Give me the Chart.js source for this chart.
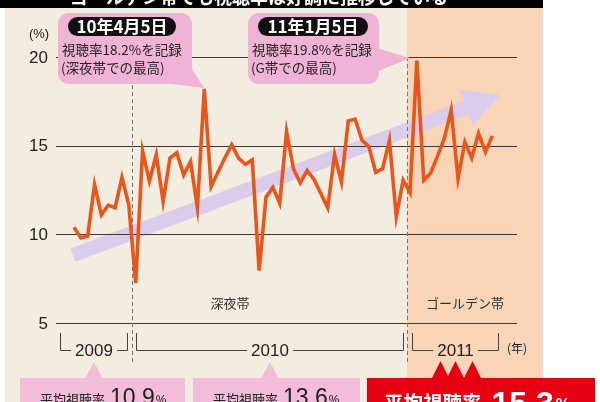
<!DOCTYPE html>
<html><head><meta charset="utf-8">
<script src="https://cdn.jsdelivr.net/npm/chart.js@4"></script>
<style>html,body{margin:0;padding:0;background:#fff;width:600px;height:402px;overflow:hidden}</style>
</head><body><canvas id="c" width="600" height="402"></canvas>
<script>
// ---- DATA ----
const weeks = [0,1,2,3,4,5,6,7,8,9,10,11,12,13,14,15,16,17,18,19,20,21,22,23,24,25,26,27,28,29,30,
  31,32,33,34,35,36,37,38,39,40,41,42,43,44,45,46,47,48,49,50,51,52,53,54,55,56,57,58,59,60,61];
const ratings = [10.4,9.8,9.9,12.8,11.1,11.65,11.5,13.2,11.65,7.25,14.7,13.0,14.5,11.85,14.3,14.6,
  13.35,14.1,11.5,18.2,12.7,13.5,14.3,15.05,14.3,13.95,14.2,7.95,12.1,12.65,11.75,15.8,13.7,12.9,13.6,
  13.1,12.3,11.5,14.5,12.95,16.4,16.5,15.3,14.95,13.5,13.7,15.3,11.0,13.05,12.35,19.8,13.05,13.45,14.4,
  15.4,17.0,13.15,15.2,14.3,15.7,14.65,15.55];
const yTicks = [5,10,15,20];
const yUnit = '(%)';
const years = ['2009','2010','2011'];
const yearSpans = [[-2,7.7],[9,48],[49.3,61.8]];
const yearUnit = '(年)';
const bandBoundaries = [8.45,48.5];
const bandNames = ['深夜帯','ゴールデン帯'];
const peakDates = ['10年4月5日','11年1月5日'];
const peakLine1 = ['視聴率18.2%を記録','視聴率19.8%を記録'];
const peakLine2 = ['(深夜帯での最高)','(G帯での最高)'];
const avgLabel = '平均視聴率';
const avgValues = ['10.9','13.6','15.3'];
const title = 'ゴールデン帯でも視聴率は好調に推移している';
const trendStart = [-0.15, 8.83];
const trendEnd = [62.1, 17.86];

// ---- DRAWING ----
const JP = '"Noto Sans CJK JP", sans-serif';
const LAT = '"Liberation Sans", Arial, sans-serif';
function rr(ctx,x,y,w,h,r){ctx.beginPath();ctx.moveTo(x+r,y);ctx.arcTo(x+w,y,x+w,y+h,r);ctx.arcTo(x+w,y+h,x,y+h,r);ctx.arcTo(x,y+h,x,y,r);ctx.arcTo(x,y,x+w,y,r);ctx.closePath();}

const deco = {
  id:'deco',
  beforeDraw(chart){
    const {ctx, scales:{x,y}} = chart;
    ctx.save();
    ctx.fillStyle='#fff'; ctx.fillRect(0,0,600,402);
    const bx = Math.round(x.getPixelForValue(bandBoundaries[1]));
    ctx.fillStyle='#f3ece1'; ctx.fillRect(5,8,bx-5,394);
    ctx.fillStyle='#f9d5b7'; ctx.fillRect(bx,8,543-bx,394);
    ctx.fillStyle='#000'; ctx.fillRect(0,0,543,8);
    ctx.fillStyle='#fff'; ctx.font='bold 18px '+JP; ctx.textAlign='left'; ctx.textBaseline='alphabetic';
    ctx.fillText(title,70,4);

    // trend arrow
    const p0=[x.getPixelForValue(trendStart[0]), y.getPixelForValue(trendStart[1])];
    const p1=[x.getPixelForValue(trendEnd[0]), y.getPixelForValue(trendEnd[1])];
    let dx=p1[0]-p0[0], dy=p1[1]-p0[1]; const L=Math.hypot(dx,dy); dx/=L; dy/=L;
    const nx=-dy, ny=dx, bh=7, hh=19, hl=36;
    const b=[p1[0]-dx*hl, p1[1]-dy*hl];
    ctx.fillStyle='#d9cdeb';
    ctx.beginPath();
    ctx.moveTo(p0[0]+nx*bh,p0[1]+ny*bh);
    ctx.lineTo(b[0]+nx*bh,b[1]+ny*bh);
    ctx.lineTo(b[0]+nx*hh,b[1]+ny*hh);
    ctx.lineTo(p1[0],p1[1]);
    ctx.lineTo(b[0]-nx*hh,b[1]-ny*hh);
    ctx.lineTo(b[0]-nx*bh,b[1]-ny*bh);
    ctx.lineTo(p0[0]-nx*bh,p0[1]-ny*bh);
    ctx.closePath(); ctx.fill();

    // gridlines
    ctx.strokeStyle='#3d3833'; ctx.lineWidth=1.2;
    yTicks.forEach(v=>{const py=Math.round(y.getPixelForValue(v))+0.5; ctx.beginPath(); ctx.moveTo(x.left,py); ctx.lineTo(x.right,py); ctx.stroke();});
    // tick labels
    ctx.fillStyle='#222'; ctx.font='17px '+LAT; ctx.textAlign='right'; ctx.textBaseline='middle';
    yTicks.forEach(v=>ctx.fillText(String(v), 48, y.getPixelForValue(v)+1));
    ctx.font='13px '+LAT; ctx.textAlign='center'; ctx.fillText(yUnit, 39, y.getPixelForValue(20)-23);

    // dashed boundaries
    ctx.strokeStyle='#7a7470'; ctx.lineWidth=1; ctx.setLineDash([4,3]);
    bandBoundaries.forEach(v=>{const px=Math.round(x.getPixelForValue(v))+0.5; ctx.beginPath(); ctx.moveTo(px,y.getPixelForValue(20)); ctx.lineTo(px,363); ctx.stroke();});
    ctx.setLineDash([]);

    // band names
    ctx.fillStyle='#333'; ctx.font='13px '+JP; ctx.textAlign='center'; ctx.textBaseline='middle';
    ctx.fillText(bandNames[0], 230, y.getPixelForValue(6.15));
    ctx.fillText(bandNames[1], 465, y.getPixelForValue(6.15));
    ctx.restore();
  },
  afterDatasetsDraw(chart){
    const {ctx, scales:{x,y}} = chart;
    ctx.save();
    // callouts
    const boxes=[[58,13,134,71],[248,13,131,71]];
    const pillW=[108,110];
    const ptr=[[[172,84],[190,66],[204,88]],[[376,48],[376,72],[410,58]]];
    boxes.forEach((bx,i)=>{
      ctx.fillStyle='#efb4d5';
      rr(ctx,bx[0],bx[1],bx[2],bx[3],11); ctx.fill();
      ctx.beginPath(); ctx.moveTo(...ptr[i][0]); ctx.lineTo(...ptr[i][1]); ctx.lineTo(...ptr[i][2]); ctx.closePath(); ctx.fill();
      ctx.fillStyle='#111'; rr(ctx,bx[0]+10,bx[1]+4,pillW[i],19,9.5); ctx.fill();
      ctx.fillStyle='#fff'; ctx.font='bold 17px '+JP; ctx.textAlign='center'; ctx.textBaseline='middle';
      ctx.fillText(peakDates[i], bx[0]+10+pillW[i]/2, bx[1]+14);
      ctx.fillStyle='#2a2226'; ctx.font='13.5px '+JP; ctx.textAlign='left';
      ctx.fillText(peakLine1[i], bx[0]+4, bx[1]+37);
      ctx.fillText(peakLine2[i], bx[0]+3, bx[1]+55);
    });

    // year brackets
    ctx.strokeStyle='#444'; ctx.lineWidth=1; ctx.fillStyle='#222';
    ctx.font='17px '+LAT; ctx.textAlign='center'; ctx.textBaseline='middle';
    const centers=[];
    years.forEach((yr,i)=>{
      const xa=Math.round(x.getPixelForValue(yearSpans[i][0]))+0.5, xb=Math.round(x.getPixelForValue(yearSpans[i][1]))+0.5;
      const c=(xa+xb)/2; centers.push(c);
      const w=ctx.measureText(yr).width;
      ctx.beginPath();
      ctx.moveTo(xa,333); ctx.lineTo(xa,350.5); ctx.lineTo(c-w/2-4,350.5);
      ctx.moveTo(c+w/2+4,350.5); ctx.lineTo(xb,350.5); ctx.lineTo(xb,333);
      ctx.stroke();
      ctx.fillText(yr, c, 351);
    });
    ctx.font='12px '+JP; ctx.fillText(yearUnit, 517, 348);

    // bottom average boxes
    const pboxes=[[20,185],[193,360]];
    pboxes.forEach((pb,i)=>{
      ctx.fillStyle='#f2bcda';
      ctx.fillRect(pb[0],378,pb[1]-pb[0],30);
      ctx.beginPath(); ctx.moveTo(centers[i]-9,379); ctx.lineTo(centers[i],362); ctx.lineTo(centers[i]+9,379); ctx.closePath(); ctx.fill();
      ctx.fillStyle='#222'; ctx.textAlign='left'; ctx.textBaseline='alphabetic';
      let tx=pb[0]+20;
      ctx.font='13px '+JP; ctx.fillText(avgLabel, tx, 404); tx+=ctx.measureText(avgLabel).width+5;
      ctx.font='23px '+LAT; ctx.fillText(avgValues[i], tx, 405); tx+=ctx.measureText(avgValues[i]).width+1;
      ctx.font='12px '+LAT; ctx.fillText('%', tx, 404);
    });
    // red box
    ctx.fillStyle='#e50012';
    ctx.fillRect(367,378,228,30);
    [-15,0,17].forEach(o=>{const c=centers[2]+o; ctx.beginPath(); ctx.moveTo(c-9,379); ctx.lineTo(c,361); ctx.lineTo(c+9,379); ctx.closePath(); ctx.fill();});
    ctx.fillStyle='#fff'; ctx.textAlign='left'; ctx.textBaseline='alphabetic';
    let tx=384;
    ctx.font='bold 19.5px '+JP; ctx.fillText(avgLabel, tx, 410); tx+=ctx.measureText(avgLabel).width+10;
    ctx.font='bold 32px '+LAT; ctx.fillText(avgValues[2], tx, 414); tx+=ctx.measureText(avgValues[2]).width+2;
    ctx.font='bold 16px '+LAT; ctx.fillText('%', tx, 410);
    ctx.restore();
  }
};

new Chart(document.getElementById('c'), {
  type:'line',
  data:{ datasets:[{ data: weeks.map((w,i)=>({x:w, y:ratings[i]})), borderColor:'#e9561c', borderWidth:3.6,
    pointRadius:0, tension:0, fill:false, borderJoinStyle:'miter', clip:false }]},
  options:{
    responsive:false, devicePixelRatio:1, animation:false,
    layout:{padding:{left:56,right:83,top:57,bottom:79}},
    plugins:{legend:{display:false}, tooltip:{enabled:false}},
    scales:{
      x:{type:'linear', min:-2.62, max:64.6, display:false},
      y:{type:'linear', min:5, max:20, display:false}
    }
  },
  plugins:[deco]
});
</script>
</body></html>
